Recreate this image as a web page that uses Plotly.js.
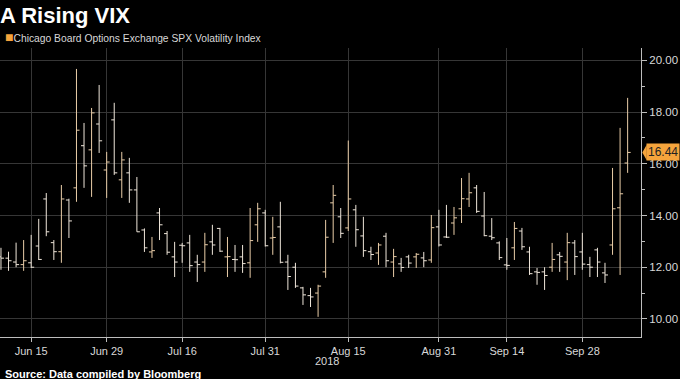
<!DOCTYPE html>
<html>
<head>
<meta charset="utf-8">
<script src="https://cdn.plot.ly/plotly-3.0.1.min.js"></script>
<style>html,body{margin:0;padding:0;background:#000;}#chart{width:680px;height:379px;}</style>
</head>
<body>
<div id="chart"></div>
<script>
const dates = ['2018-06-11','2018-06-12','2018-06-13','2018-06-14','2018-06-15','2018-06-18','2018-06-19','2018-06-20','2018-06-21','2018-06-22','2018-06-25','2018-06-26','2018-06-27','2018-06-28','2018-06-29','2018-07-02','2018-07-03','2018-07-05','2018-07-06','2018-07-09','2018-07-10','2018-07-11','2018-07-12','2018-07-13','2018-07-16','2018-07-17','2018-07-18','2018-07-19','2018-07-20','2018-07-23','2018-07-24','2018-07-25','2018-07-26','2018-07-27','2018-07-30','2018-07-31','2018-08-01','2018-08-02','2018-08-03','2018-08-06','2018-08-07','2018-08-08','2018-08-09','2018-08-10','2018-08-13','2018-08-14','2018-08-15','2018-08-16','2018-08-17','2018-08-20','2018-08-21','2018-08-22','2018-08-23','2018-08-24','2018-08-27','2018-08-28','2018-08-29','2018-08-30','2018-08-31','2018-09-04','2018-09-05','2018-09-06','2018-09-07','2018-09-10','2018-09-11','2018-09-12','2018-09-13','2018-09-14','2018-09-17','2018-09-18','2018-09-19','2018-09-20','2018-09-21','2018-09-24','2018-09-25','2018-09-26','2018-09-27','2018-09-28','2018-10-01','2018-10-02','2018-10-03','2018-10-04','2018-10-05','2018-10-08'];
const openV  = [12.40,12.35,12.20,12.10,12.17,12.82,14.64,12.95,12.60,14.60,15.07,16.70,16.54,17.54,15.76,17.70,15.38,15.65,14.99,13.44,12.59,14.10,13.30,12.40,12.85,12.94,12.20,12.20,12.98,13.50,12.40,12.30,12.40,12.17,13.64,14.10,13.13,13.56,12.20,12.00,11.20,10.90,11.00,11.82,14.49,13.95,13.52,14.22,13.21,12.60,12.55,13.20,12.20,12.13,12.40,12.40,12.36,12.28,13.56,13.17,13.71,14.26,14.64,15.07,13.98,13.20,12.94,12.09,12.75,13.40,12.59,11.82,11.82,12.00,12.48,12.20,12.94,12.59,12.10,12.67,11.78,12.86,14.30,16.03];
const highV  = [12.75,12.60,12.95,13.05,13.25,13.87,14.87,13.05,15.18,14.65,19.67,17.58,18.16,19.05,16.46,18.36,16.46,16.23,15.49,13.50,13.17,14.29,13.40,12.98,12.94,13.25,12.48,13.33,13.64,13.52,13.17,12.86,12.86,14.29,14.49,14.22,13.95,14.53,12.48,12.17,11.24,11.20,11.32,13.83,15.18,14.29,16.90,14.41,13.95,12.79,12.94,13.33,12.71,12.36,12.48,12.55,12.59,14.02,14.22,14.41,14.33,15.45,15.65,15.18,14.91,13.90,13.00,13.13,13.75,13.52,12.79,11.97,12.00,12.94,12.59,13.33,13.05,13.33,12.40,12.75,12.17,15.84,17.39,18.55];
const lowV   = [11.90,11.86,12.00,11.86,11.97,12.28,13.20,12.28,12.17,13.13,14.53,15.07,14.72,16.42,14.68,15.57,14.68,14.49,13.37,12.59,12.36,13.05,12.48,11.62,12.17,11.82,11.43,11.82,12.48,12.59,11.62,11.82,11.78,11.59,12.98,12.80,12.48,12.15,11.12,11.20,10.54,10.46,10.08,11.59,12.94,13.13,13.40,12.79,12.40,12.28,12.09,12.00,11.62,11.82,11.97,11.97,12.00,12.17,12.80,13.13,13.25,13.71,14.33,14.10,13.20,13.05,12.28,11.90,12.28,12.67,11.70,11.32,11.12,11.82,11.82,11.50,11.70,11.90,11.62,11.62,11.39,12.48,11.70,15.65];
const closeV = [12.35,12.25,12.10,12.25,12.00,12.30,13.37,12.60,14.64,13.79,17.30,15.92,17.97,16.89,16.07,15.65,16.15,14.99,13.37,12.75,12.64,13.64,12.58,12.20,12.83,12.06,12.10,12.87,12.86,12.62,12.41,12.29,12.14,13.03,14.26,12.83,13.15,12.19,11.64,11.27,10.93,10.85,11.27,13.16,14.78,13.31,14.64,13.45,12.64,12.49,12.86,12.25,12.41,11.99,12.16,12.50,12.25,13.53,12.86,13.16,13.91,14.65,14.88,14.16,13.22,13.14,12.37,12.07,13.50,12.79,11.75,11.80,11.68,12.30,12.42,12.95,12.41,12.12,12.00,12.20,11.70,14.26,14.84,16.44];
const tickDates = ['2018-06-15','2018-06-29','2018-07-16','2018-07-31','2018-08-15','2018-08-31','2018-09-14','2018-09-28'];
const tickLabels = ['Jun 15','Jun 29','Jul 16','Jul 31','Aug 15','Aug 31','Sep 14','Sep 28'];
const seriesName = 'Chicago Board Options Exchange SPX Volatility Index';
const chartTitle = 'A Rising VIX';
const yearLabel = '2018';
const sourceText = 'Source: Data compiled by Bloomberg';

const FONT = 'Liberation Sans, Arial, sans-serif';
const last = closeV[closeV.length - 1];

const trace = {
  type: 'ohlc', name: seriesName,
  x: dates, open: openV, high: highV, low: lowV, close: closeV,
  increasing: {line: {color: '#e9cda8', width: 1}},
  decreasing: {line: {color: '#efe6da', width: 1}},
  tickwidth: 0.4, showlegend: false, hoverinfo: 'skip'
};

const layout = {
  width: 680, height: 379,
  paper_bgcolor: '#000', plot_bgcolor: '#000',
  margin: {l: 0, r: 39, t: 48, b: 42},
  title: {text: '<b>' + chartTitle + '</b>', x: 0, xref: 'container', xanchor: 'left',
          y: 1 - 15/379, yref: 'container', yanchor: 'middle',
          font: {family: FONT, size: 22, color: '#ffffff'}},
  showlegend: false,
  xaxis: {
    type: 'category', range: [-0.13, 84.77],
    tickmode: 'array', tickvals: tickDates, ticktext: tickLabels,
    showgrid: true, gridcolor: '#363636', gridwidth: 1,
    showline: true, linecolor: '#bdbdbd', linewidth: 1,
    ticks: 'outside', ticklen: 4, tickcolor: '#bdbdbd',
    tickfont: {family: FONT, size: 11, color: '#d8d8d8'},
    rangeslider: {visible: false}, fixedrange: true
  },
  yaxis: {
    side: 'right', range: [9.3, 20.48], dtick: 2, tick0: 0, tickformat: '.2f',
    showgrid: true, gridcolor: '#363636', gridwidth: 1, zeroline: false,
    showline: true, linecolor: '#bdbdbd', linewidth: 1,
    ticks: 'outside', ticklen: 5, tickcolor: '#bdbdbd',
    minor: {dtick: 1, ticks: 'outside', ticklen: 3, tickcolor: '#bdbdbd', showgrid: false},
    tickfont: {family: FONT, size: 11.5, color: '#d8d8d8'},
    fixedrange: true
  },
  annotations: [
    {xref: 'paper', yref: 'paper', x: 0.004, y: 1 + 11/289, xanchor: 'left', yanchor: 'middle',
     text: '<span style="color:#f5a43c;font-size:14px">■</span>' + seriesName, showarrow: false,
     font: {family: FONT, size: 10.3, color: '#d8d8d8'}},
    {xref: 'paper', yref: 'paper', x: 327/641, y: -24/289, xanchor: 'center', yanchor: 'middle',
     text: yearLabel, showarrow: false, font: {family: FONT, size: 11, color: '#d8d8d8'}},
    {xref: 'paper', yref: 'paper', x: 3/641, y: -37/289, xanchor: 'left', yanchor: 'middle',
     text: '<b>' + sourceText + '</b>', showarrow: false, font: {family: FONT, size: 11, color: '#ffffff'}},
    {xref: 'paper', yref: 'y', x: 1, xshift: 5, y: last, xanchor: 'left', yanchor: 'middle',
     text: last.toFixed(2), showarrow: false, bgcolor: '#f5a43c', borderpad: 1,
     font: {family: FONT, size: 12, color: '#222'}}
  ],
  shapes: [
    {type: 'path', xref: 'paper', yref: 'y', fillcolor: '#f5a43c', line: {width: 0},
     path: 'M 1.002,' + last + ' L 1.009,' + (last + 0.3) + ' L 1.009,' + (last - 0.3) + ' Z'}
  ]
};

Plotly.newPlot('chart', [trace], layout, {staticPlot: true, displayModeBar: false});
</script>
</body>
</html>
